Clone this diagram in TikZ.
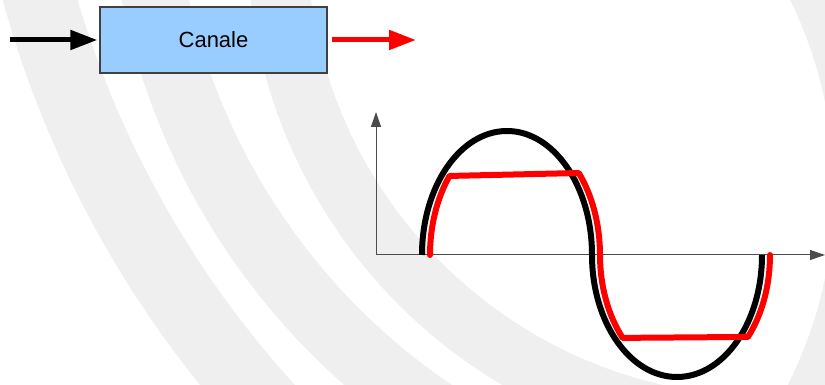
\documentclass[tikz,border=0pt]{standalone}
\usepackage{fontspec}
\setmainfont{Liberation Sans}
\usepackage{xcolor}
\usetikzlibrary{arrows.meta, calc, positioning}

\definecolor{canaleblue}{HTML}{99CCFF}
\definecolor{bandgray}{HTML}{EFEFEF}

\begin{document}
\begin{tikzpicture}[x=1pt, y=1pt,
  blockbox/.style={draw=black!75, line width=1.2pt, fill=canaleblue, minimum width=227pt, minimum height=66pt, inner sep=0pt, font=\fontsize{22}{26}\selectfont},
  sigarrow/.style={line width=5pt, -{Triangle[length=27pt, width=19pt]}},
  axis/.style={line width=1pt, draw=black!70, -{Triangle[length=15pt, width=10pt]}},
  band/.style={draw=bandgray, line cap=butt}]
\useasboundingbox (0,0) rectangle (825,385);
% background watermark
\begin{scope}
\clip (0,0) rectangle (825,385);
\draw[band, line width=72pt] (1023,665) ++(188:1022pt) arc[start angle=188, end angle=232, radius=1022pt];
\draw[band, line width=66pt] (805,523) ++(184:664pt) arc[start angle=184, end angle=245, radius=664pt];
\draw[band, line width=60pt] (765,446.5) ++(180:488pt) arc[start angle=180, end angle=262, radius=488pt];
\draw[band, line width=36pt] (400,195) ++(-40:452pt) arc[start angle=-40, end angle=40, radius=452pt];
\end{scope}

% block
\node[blockbox] (canale) at (213.5,345) {Canale};
\coordinate (in) at (10,345);
\coordinate (out) at (416,345);
\draw[sigarrow, shorten >=2pt] (in) -- (canale.west);
\draw[sigarrow, red, shorten <=4pt] (canale.east) -- (out);

% axes
\coordinate (O) at (376,130);
\coordinate (ytip) at (376,273);
\coordinate (xtip) at (825,130);
\draw[axis] (O) -- (ytip);
\draw[axis] (O) -- (xtip);

% input sine
\draw[line width=6pt] (422,130) arc[start angle=180, end angle=0, x radius=85pt, y radius=124pt]
  arc[start angle=180, end angle=360, x radius=85pt, y radius=122pt];
% clipped output
\draw[red, line width=6pt, line cap=round, line join=round] (430,130)
  arc[start angle=180, end angle=140.4, x radius=85pt, y radius=124pt]
  -- ([shift={(515,130)}]41.4:85pt and 124pt)
  arc[start angle=41.4, end angle=0, x radius=85pt, y radius=124pt]
  arc[start angle=180, end angle=222.8, x radius=85pt, y radius=122pt]
  -- ([shift={(685,130)}]317.8:85pt and 122pt)
  arc[start angle=317.8, end angle=360, x radius=85pt, y radius=122pt];
\end{tikzpicture}
\end{document}
